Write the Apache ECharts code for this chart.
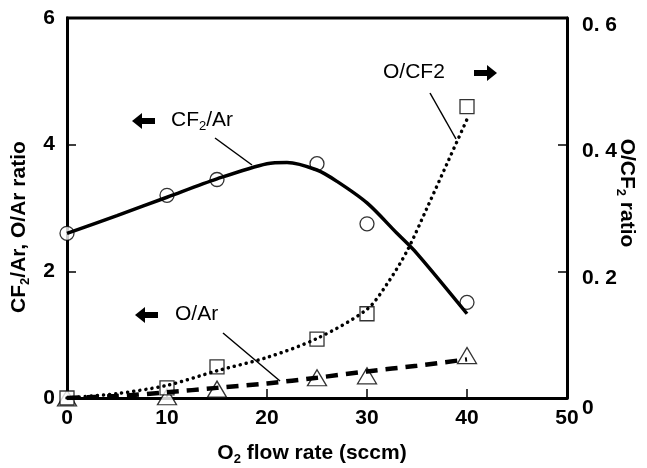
<!DOCTYPE html>
<html>
<head>
<meta charset="utf-8">
<script src="https://cdn.jsdelivr.net/npm/echarts@6/dist/echarts.min.js"></script>
<style>
  html, body { margin: 0; padding: 0; background: #fff; }
  #chart { width: 647px; height: 468px; }
</style>
</head>
<body>
<div id="chart"></div>
<script>
// measured points
const flowRates = [0, 10, 15, 25, 30, 40];
const cf2ArValues = [2.6, 3.2, 3.45, 3.7, 2.75, 1.51];
const oCf2Values = [0, 0.016, 0.049, 0.093, 0.133, 0.46];
const oArValues = [0, 0.02, 0.14, 0.32, 0.35, 0.67];

// fitted curves
const cf2FitX = [0, 5, 10, 15, 20, 22, 25, 27, 30, 33, 35, 40];
const cf2ArFit = [2.6, 2.88, 3.17, 3.46, 3.70, 3.72, 3.6, 3.42, 3.08, 2.6, 2.28, 1.33];
const oCf2FitX = [0, 5, 10, 15, 20, 25, 30, 32, 34, 36, 38, 40];
const oCf2Fit = [0, 0.007, 0.02, 0.043, 0.064, 0.094, 0.14, 0.18, 0.232, 0.3, 0.37, 0.44];
const oArFitX = [0, 5, 10, 15, 20, 25, 30, 35, 40];
const oArFit = [0, 0.03, 0.09, 0.16, 0.23, 0.32, 0.42, 0.51, 0.61];

const leftTicks = [0, 2, 4, 6];
const rightTicks = [0, 0.2, 0.4, 0.6];
const xTicks = [0, 10, 20, 30, 40, 50];

const pairs = (xs, ys) => xs.map((x, i) => [x, ys[i]]);

let myChart = echarts.init(document.getElementById('chart'));
const FONT = 'Liberation Sans';
const tickLabel = { color: '#000', fontFamily: FONT, fontWeight: 'bold', fontSize: 21 };
const titleRich = {
  b: { fontFamily: FONT, fontWeight: 'bold', fontSize: 21, color: '#000' },
  s: { fontFamily: FONT, fontWeight: 'bold', fontSize: 13, color: '#000', padding: [12, 0, 0, 0] }
};
const noteRich = {
  n: { fontFamily: FONT, fontSize: 21, fill: '#000' },
  s: { fontFamily: FONT, fontSize: 13, fill: '#000', padding: [11, 0, 0, 0] }
};

let option = {
  animation: false,
  grid: { left: 67, right: 80, top: 18, bottom: 70, containLabel: false, outerBoundsMode: 'none' },
  xAxis: {
    type: 'value',
    min: xTicks[0],
    max: xTicks[xTicks.length - 1],
    interval: 10,
    axisLine: { lineStyle: { color: '#000', width: 3 } },
    axisTick: { inside: true, length: 9, lineStyle: { color: '#000', width: 1.5 } },
    axisLabel: Object.assign({ margin: 10 }, tickLabel),
    splitLine: { show: false },
    name: '{b|O}{s|2}{b| flow rate (sccm)}',
    nameLocation: 'middle',
    nameGap: 43,
    nameTextStyle: { padding: [0, 10, 0, 0], rich: titleRich }
  },
  yAxis: [
    {
      type: 'value',
      min: leftTicks[0], max: leftTicks[leftTicks.length - 1], interval: 2,
      axisLine: { show: true, lineStyle: { color: '#000', width: 3 } },
      axisTick: { show: true, inside: true, length: 9, lineStyle: { color: '#000', width: 1.5 } },
      axisLabel: Object.assign({ margin: 12 }, tickLabel),
      splitLine: { show: false },
      name: '{b|CF}{s|2}{b|/Ar, O/Ar ratio}',
      nameLocation: 'middle',
      nameGap: 35,
      nameTextStyle: { padding: [0, 38, 0, 0], rich: titleRich }
    },
    {
      type: 'value',
      min: rightTicks[0], max: rightTicks[rightTicks.length - 1], interval: 0.2,
      position: 'right',
      axisLine: { show: true, lineStyle: { color: '#000', width: 3 } },
      axisTick: { show: true, inside: true, length: 9, lineStyle: { color: '#000', width: 1.5 } },
      axisLabel: Object.assign({
        margin: 15,
        formatter: v => v === 0 ? '{z|0}' : '{r|' + v.toFixed(1).replace('.', '. ') + '}',
        rich: {
          z: { fontFamily: FONT, fontWeight: 'bold', fontSize: 21, color: '#000', padding: [20, 0, 0, 0] },
          r: { fontFamily: FONT, fontWeight: 'bold', fontSize: 21, color: '#000', padding: [14, 0, 0, 0] }
        }
      }, tickLabel),
      splitLine: { show: false },
      name: '{b|O/CF}{s|2}{b| ratio}',
      nameLocation: 'middle',
      nameGap: 47,
      nameMoveOverlap: false,
      nameRotate: -90,
      nameTextStyle: { padding: [0, 30, 0, 0], rich: titleRich }
    }
  ],
  graphic: [
    // top frame line
    { type: 'line', shape: { x1: 66, y1: 18, x2: 568, y2: 18 }, style: { stroke: '#000', lineWidth: 3 } },
    // CF2/Ar annotation
    { type: 'polygon', shape: { points: [[132, 121], [142, 113], [142, 118], [155, 118], [155, 124], [142, 124], [142, 129]] }, style: { fill: '#000' } },
    { type: 'text', left: 171, top: 110, style: { text: '{n|CF}{s|2}{n|/Ar}', rich: noteRich } },
    { type: 'line', shape: { x1: 215, y1: 138, x2: 252, y2: 165 }, style: { stroke: '#000', lineWidth: 1.5 } },
    // O/CF2 annotation
    { type: 'text', left: 383, top: 62, style: { text: 'O/CF2', fontFamily: FONT, fontSize: 21, fill: '#000' } },
    { type: 'polygon', shape: { points: [[497, 73], [487, 65], [487, 70], [474, 70], [474, 76], [487, 76], [487, 81]] }, style: { fill: '#000' } },
    { type: 'line', shape: { x1: 430, y1: 93, x2: 456, y2: 139 }, style: { stroke: '#000', lineWidth: 1.5 } },
    // O/Ar annotation
    { type: 'polygon', shape: { points: [[135, 315], [145, 307], [145, 312], [158, 312], [158, 318], [145, 318], [145, 323]] }, style: { fill: '#000' } },
    { type: 'text', left: 175, top: 304, style: { text: 'O/Ar', fontFamily: FONT, fontSize: 21, fill: '#000' } },
    { type: 'line', shape: { x1: 223, y1: 333, x2: 280, y2: 381 }, style: { stroke: '#000', lineWidth: 1.5 } }
  ],
  series: [
    {
      name: 'CF2/Ar fit', type: 'line', yAxisIndex: 0, smooth: 0.3, symbol: 'none',
      data: pairs(cf2FitX, cf2ArFit),
      lineStyle: { color: '#000', width: 3.5 }
    },
    {
      name: 'O/CF2 fit', type: 'line', yAxisIndex: 1, smooth: 0.3, symbol: 'none',
      data: pairs(oCf2FitX, oCf2Fit),
      lineStyle: { color: '#000', width: 3.5, type: [0.1, 6], cap: 'round' }
    },
    {
      name: 'O/Ar fit', type: 'line', yAxisIndex: 0, smooth: 0.3, symbol: 'none',
      data: pairs(oArFitX, oArFit),
      lineStyle: { color: '#000', width: 4.5, type: [12, 8] }
    },
    {
      name: 'O/Ar', type: 'scatter', yAxisIndex: 0, symbol: 'triangle', symbolSize: [19, 16],
      data: pairs(flowRates, oArValues),
      itemStyle: { color: '#fff', borderColor: '#000', borderWidth: 1.3 }
    },
    {
      name: 'O/CF2', type: 'scatter', yAxisIndex: 1, symbol: 'rect', symbolSize: 14,
      data: pairs(flowRates, oCf2Values),
      itemStyle: { color: '#fff', borderColor: '#000', borderWidth: 1.3 }
    },
    {
      name: 'CF2/Ar', type: 'scatter', yAxisIndex: 0, symbol: 'circle', symbolSize: 14,
      data: pairs(flowRates, cf2ArValues),
      itemStyle: { color: '#fff', borderColor: '#000', borderWidth: 1.3 }
    }
  ]
};
myChart.setOption(option);
</script>
</body>
</html>
